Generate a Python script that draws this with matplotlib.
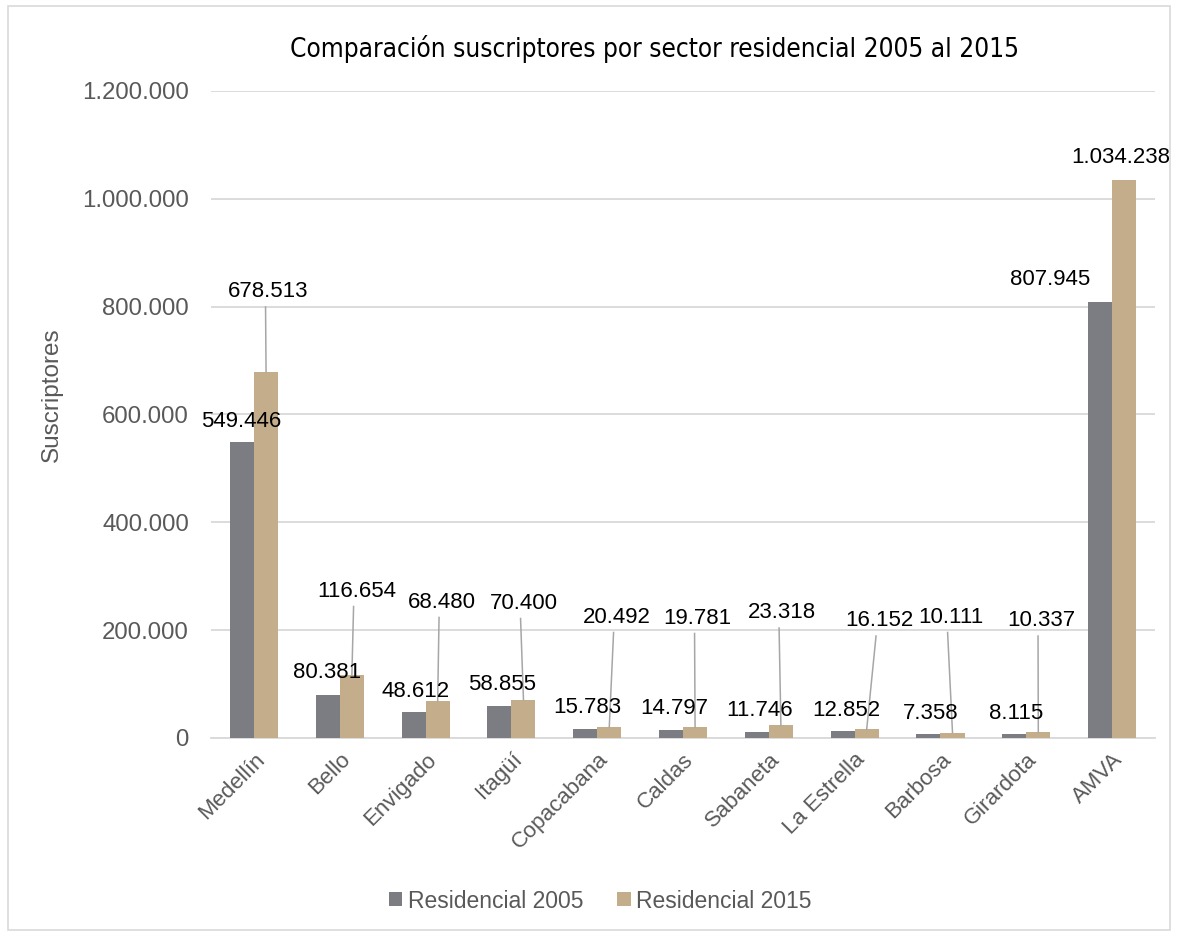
import matplotlib.pyplot as plt
import matplotlib.patches as mpatches
import numpy as np

municipios = ['Medellín', 'Bello', 'Envigado', 'Itagüí', 'Copacabana', 'Caldas',
              'Sabaneta', 'La Estrella', 'Barbosa', 'Girardota', 'AMVA']
res2005 = [549446, 80381, 48612, 58855, 15783, 14797, 11746, 12852, 7358, 8115, 807945]
res2015 = [678513, 116654, 68480, 70400, 20492, 19781, 23318, 16152, 10111, 10337, 1034238]
yticks = [0, 200000, 400000, 600000, 800000, 1000000, 1200000]


def miles(v):
    return '{:,.0f}'.format(v).replace(',', '.')


# where Excel left the data labels (x in category units, y in data units)
lab15_x = [0.169, 1.195, 2.191, 3.141, 4.225, 5.169, 6.154, 7.284, 8.118, 9.172, 10.099]
lab15_y = [831800, 276300, 256000, 254100, 228100, 226300, 236500, 221600, 228100, 221600, 1080400]
lab05_dx = [-0.146, -0.144, -0.118, -0.115, -0.113, -0.105, -0.108, -0.100, -0.115, -0.119, -0.72]
lab05_y = [590700, 125200, 90000, 102900, 60300, 58400, 54700, 54700, 50100, 50100, 855000]

c05 = '#7c7d82'
c15 = '#c4ad8a'
gris = '#595959'

plt.rcParams['font.family'] = ['Liberation Sans', 'DejaVu Sans']

fig = plt.figure(figsize=(11.77, 9.34), dpi=100)
fig.patches.append(mpatches.Rectangle((0.007, 0.004), 0.987, 0.99, transform=fig.transFigure,
                                      fill=False, edgecolor='#d9d9d9', linewidth=1.2))
ax = fig.add_axes([0.1794, 0.2099, 0.8019, 0.6927])

x = np.arange(len(municipios))
w = 0.28
ax.bar(x - w / 2, res2005, w, color=c05, label='Residencial 2005', zorder=3)
ax.bar(x + w / 2, res2015, w, color=c15, label='Residencial 2015', zorder=3)

ax.set_xlim(-0.5, len(municipios) - 0.5)
ax.set_ylim(0, 1200000)
ax.set_yticks(yticks)
ax.set_yticklabels([miles(v) for v in yticks], fontsize=17.3, color=gris)
ax.yaxis.grid(True, color='#d9d9d9', linewidth=1.3, zorder=0)
ax.tick_params(axis='y', length=0, pad=16)
ax.tick_params(axis='x', length=0, pad=8)
for s in ['top', 'right', 'left']:
    ax.spines[s].set_visible(False)
ax.spines['bottom'].set_color('#d9d9d9')
ax.spines['bottom'].set_linewidth(1.3)

ax.set_xticks(x)
ax.set_xticklabels(municipios, rotation=45, ha='right', va='top', rotation_mode='anchor',
                   fontsize=16, color=gris)
ax.set_ylabel('Suscriptores', fontsize=17.5, color=gris)
ax.yaxis.set_label_coords(-0.157, 0.53)

for i in range(len(municipios)):
    ax.text(x[i] + lab05_dx[i], lab05_y[i], miles(res2005[i]), ha='center', va='center_baseline',
            fontsize=16, color='black', zorder=5)
    ax.text(lab15_x[i], lab15_y[i], miles(res2015[i]), ha='center', va='center_baseline',
            fontsize=16, color='black', zorder=5)
    if i < len(municipios) - 1:
        ax.plot([lab15_x[i] - 0.035, x[i] + w / 2], [lab15_y[i] - 32500, res2015[i]],
                color='#a6a6a6', linewidth=1.1, zorder=4)

fig.text(0.556, 0.9507, 'Comparación suscriptores por sector residencial 2005 al 2015',
         ha='center', va='center_baseline', fontsize=18.8, color='black',
         family=['DejaVu Sans', 'Liberation Sans'], fontstretch='condensed')

fig.legend(loc='center', bbox_to_anchor=(0.51, 0.0353), ncol=2, frameon=False,
           fontsize=16.5, labelcolor=gris, handlelength=0.57, handleheight=0.57,
           handletextpad=0.26, columnspacing=1.5)

fig.savefig('out.png', dpi=100)
